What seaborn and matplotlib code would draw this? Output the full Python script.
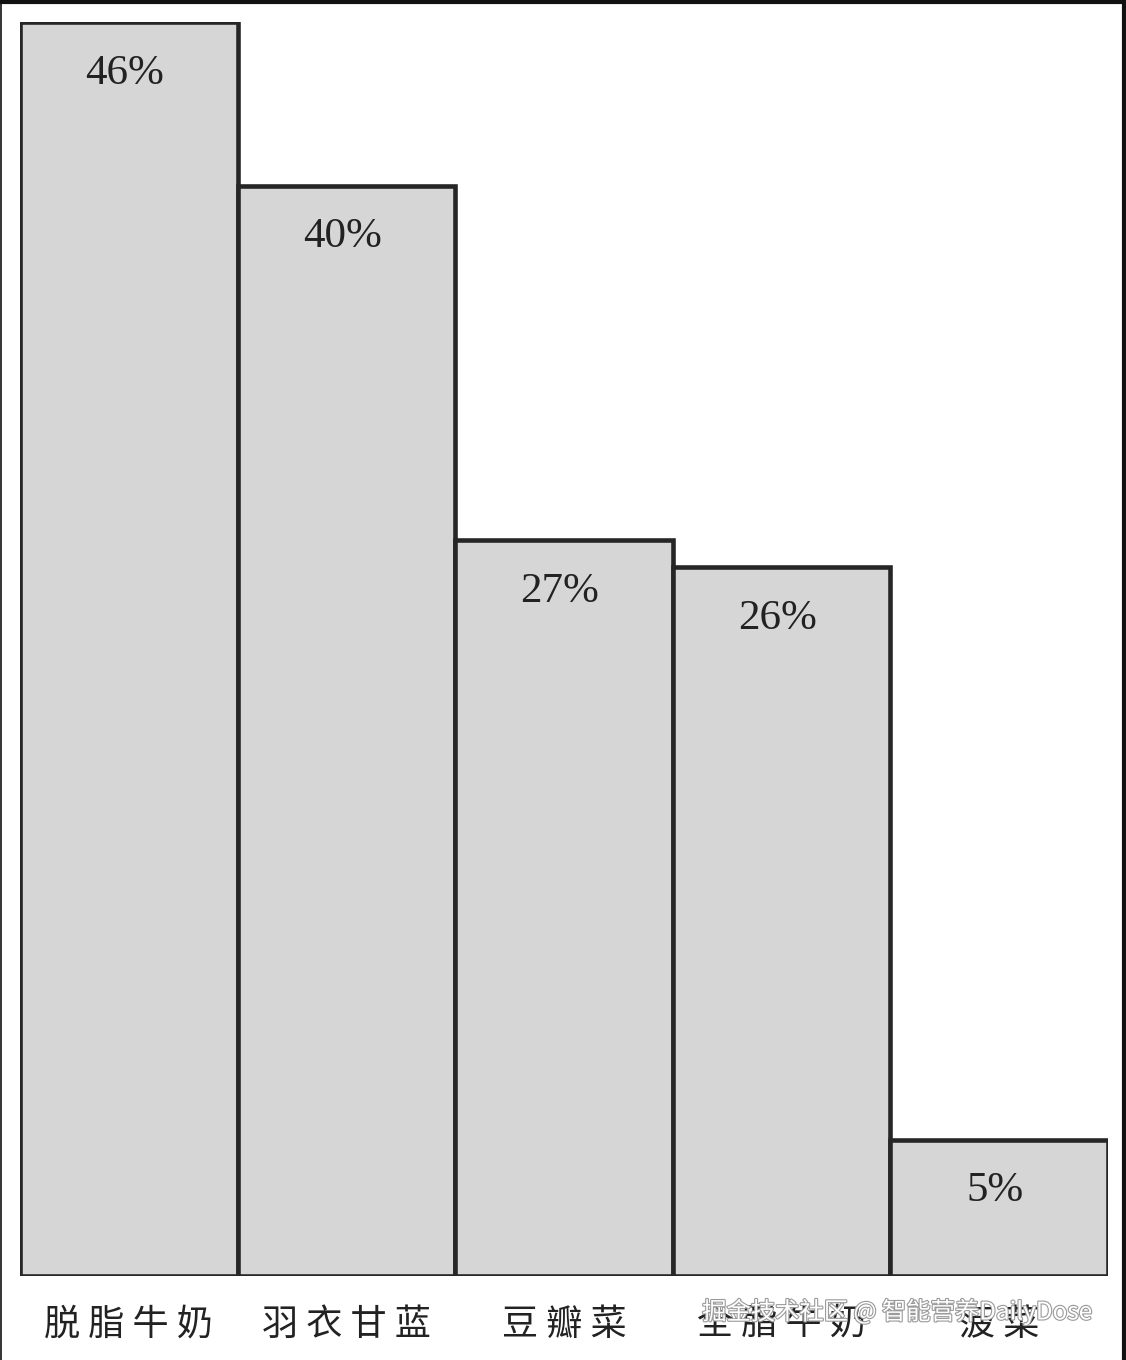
import matplotlib
matplotlib.use("Agg")

import matplotlib.pyplot as plt
import matplotlib.patheffects as pe
import pandas as pd
import seaborn as sns

# data
foods = ["脱 脂 牛 奶", "羽 衣 甘 蓝", "豆 瓣 菜", "全 脂 牛 奶", "菠 菜"]
shares = [46, 40, 27, 26, 5]
share_labels = ["46%", "40%", "27%", "26%", "5%"]

sns.set_theme(style="white")
plt.rcParams["font.family"] = ["Noto Sans CJK SC", "DejaVu Sans"]

df = pd.DataFrame({"food": foods, "share": shares})

fig = plt.figure(figsize=(11.26, 13.6), dpi=100)
ax = fig.add_axes([20 / 1126, 84 / 1360, 1088 / 1126, 1254 / 1360])

sns.barplot(data=df, x="food", y="share", width=1.0, color="#d6d6d6",
            saturation=1, edgecolor="#262626", linewidth=3.3, ax=ax)

ax.set_xlim(-0.5, len(foods) - 0.5)
ax.set_ylim(0, 46)
for s in ax.spines.values():
    s.set_visible(False)
ax.set_yticks([])
ax.set_xlabel(""); ax.set_ylabel("")
ax.tick_params(axis="x", length=0, pad=22, labelsize=26, labelcolor="#222222")
# labels sit a little left of the bar centres in the original
for t in ax.get_xticklabels():
    t.set_x(t.get_position()[0])
    t.set_ha("center")

# percentage labels just under the bar tops
for i, (v, lab) in enumerate(zip(shares, share_labels)):
    ax.annotate(lab, (i, v), xytext=(-3, -37), textcoords="offset points",
                ha="center", va="center", fontsize=31, color="#222222",
                family="Liberation Serif")

# watermark
fig.text(1092 / 1126, 1 - 1312 / 1360, "掘金技术社区 @ 智能营养DailyDose",
         ha="right", va="center", fontsize=17.5, color="white",
         path_effects=[pe.withStroke(linewidth=1.6, foreground="#9a9a9a")])

# dark frame of the screenshot
fig.add_artist(plt.Line2D([0, 1], [1 - 1.5 / 1360, 1 - 1.5 / 1360],
                          color="#111111", linewidth=3, transform=fig.transFigure))
fig.add_artist(plt.Line2D([1 - 2 / 1126, 1 - 2 / 1126], [0, 1],
                          color="#111111", linewidth=3, transform=fig.transFigure))
fig.add_artist(plt.Line2D([0.5 / 1126, 0.5 / 1126], [0, 1],
                          color="#111111", linewidth=1.2, transform=fig.transFigure))

fig.savefig("out.png", dpi=100)
